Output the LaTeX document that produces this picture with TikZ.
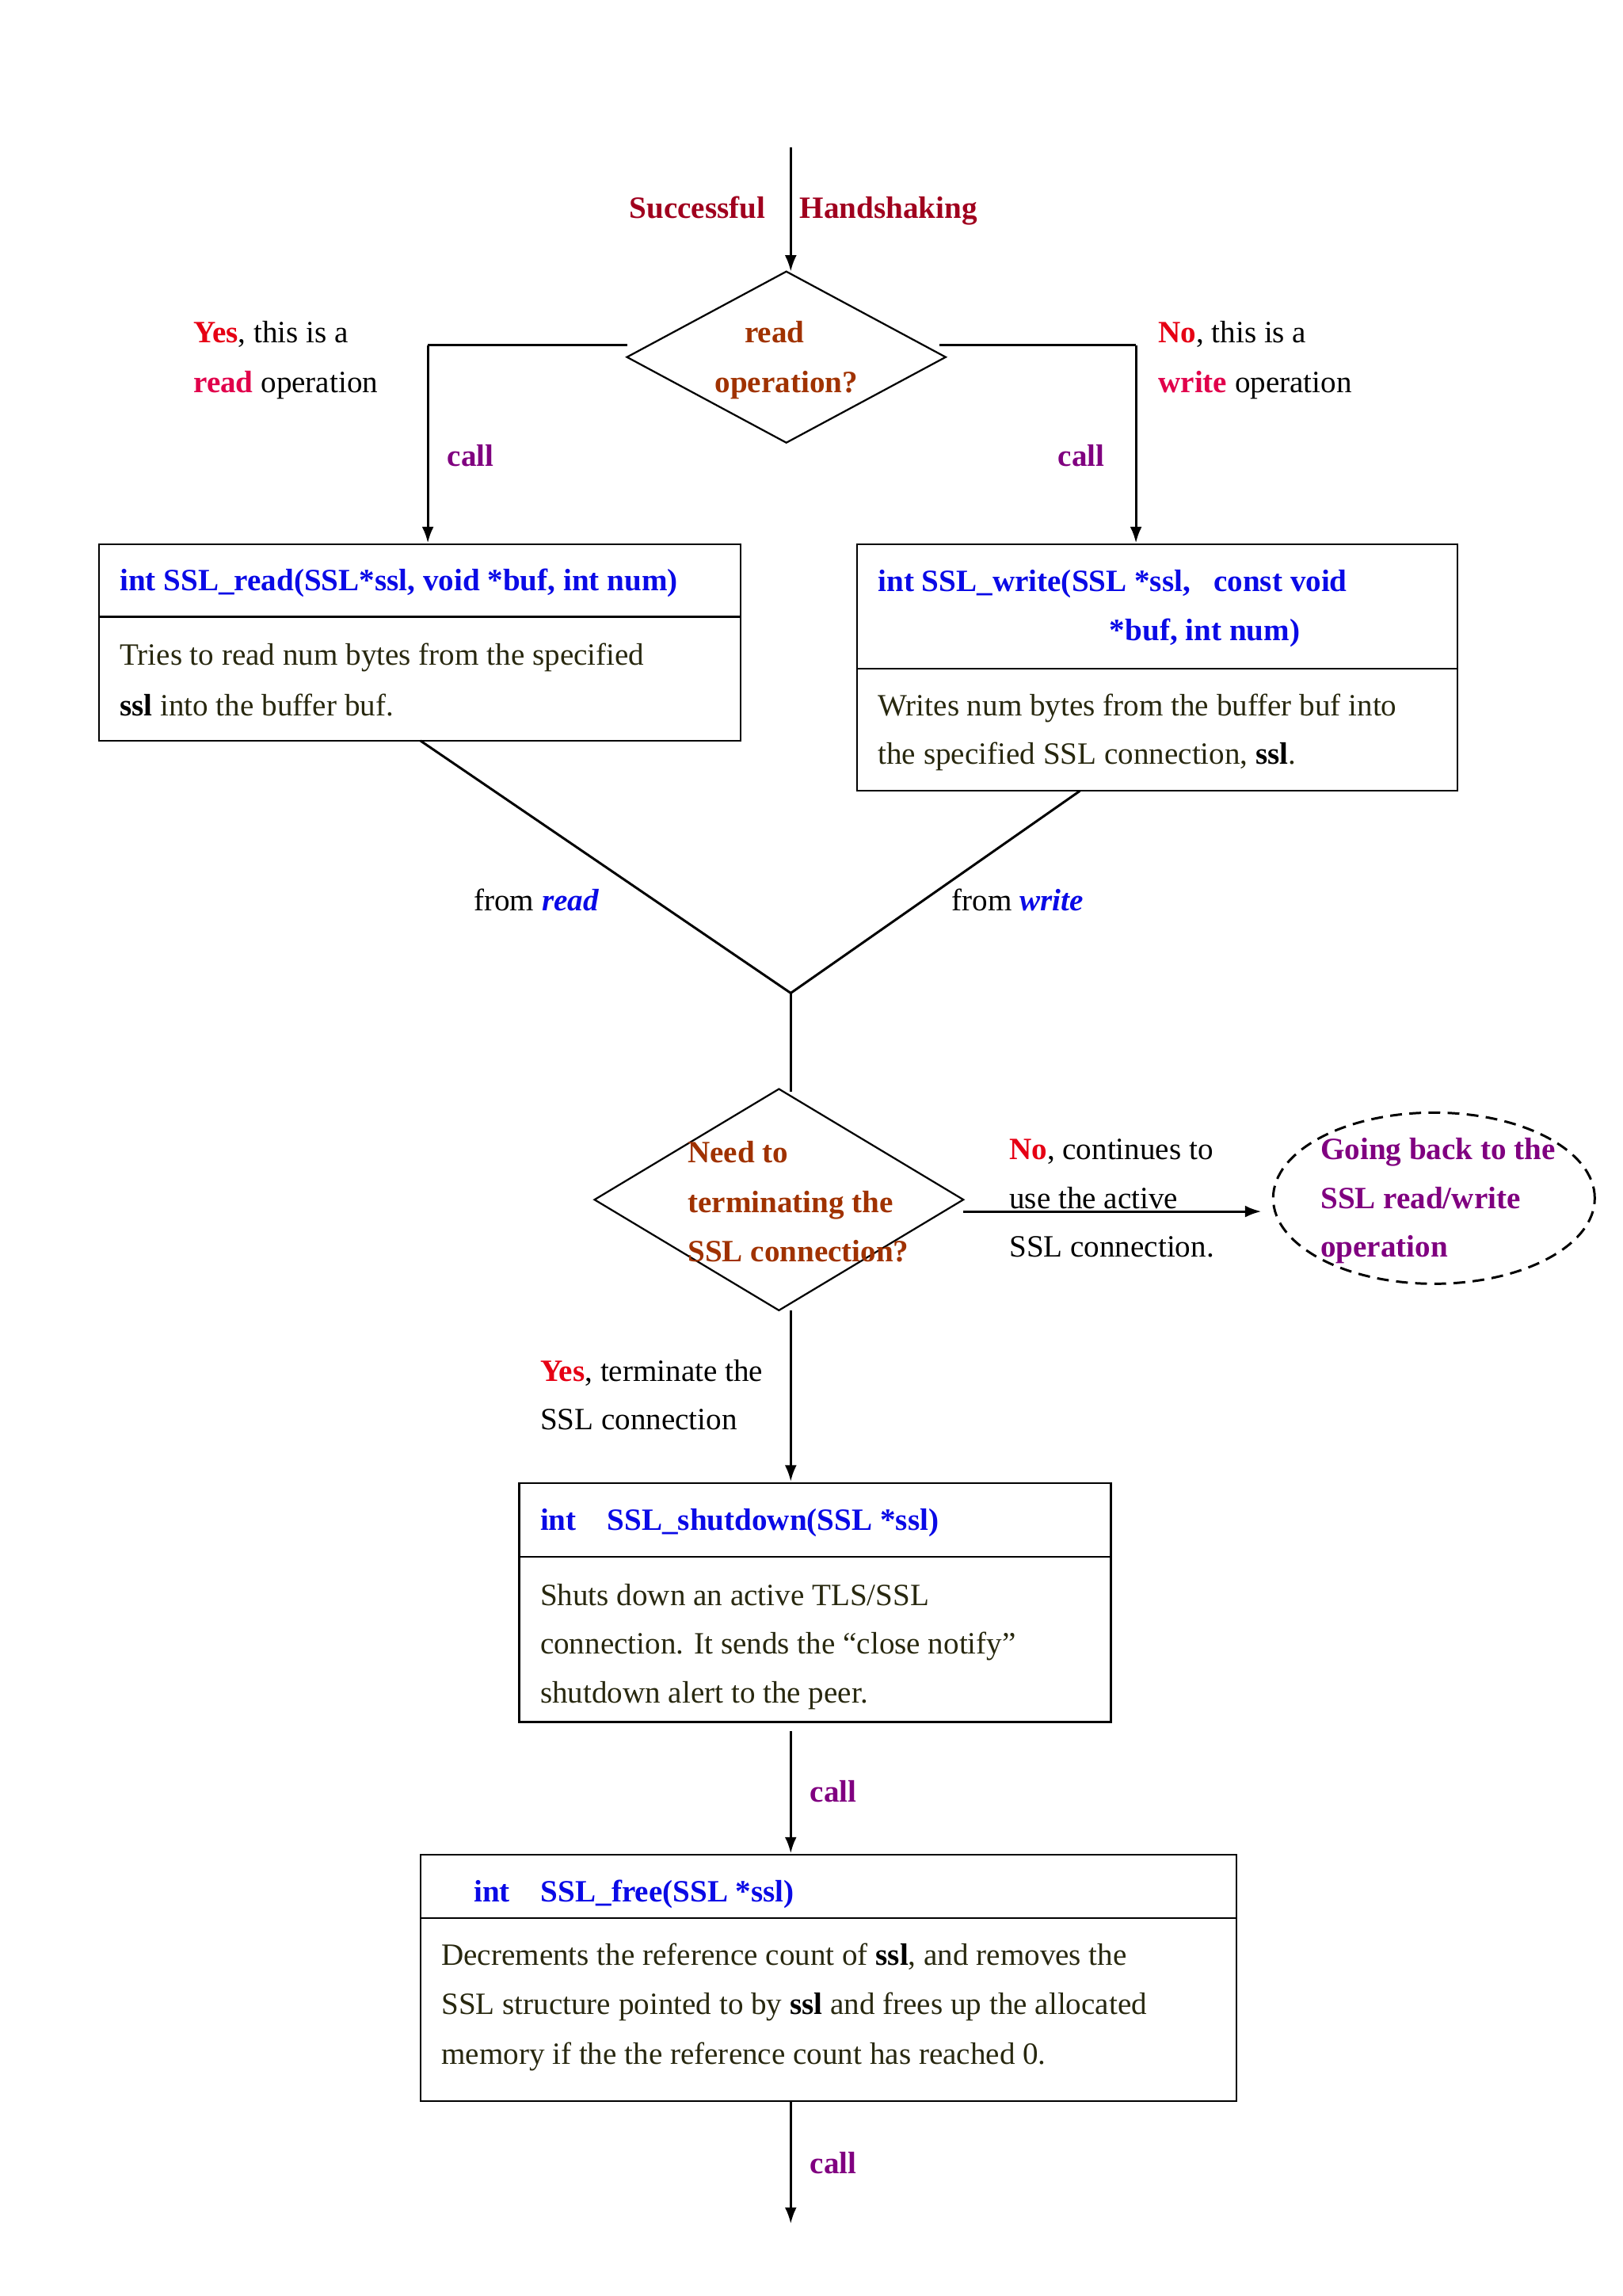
\documentclass[tikz,border=0pt]{standalone}
\usepackage{fontspec}
\setmainfont{Liberation Serif}
\usetikzlibrary{arrows.meta,shapes.geometric}
\definecolor{tblue}{RGB}{10,10,230}
\definecolor{dorange}{RGB}{160,50,0}
\definecolor{dred}{RGB}{160,0,30}
\definecolor{bred}{RGB}{230,0,20}
\definecolor{pink}{RGB}{225,0,75}
\definecolor{purp}{RGB}{128,0,128}
\definecolor{body}{RGB}{40,40,15}
\begin{document}
\begin{tikzpicture}[x=1pt,y=-1pt,
  every node/.style={font=\fontsize{21}{26}\selectfont, inner sep=0pt, anchor=base west},
  ln/.style={line width=1.6pt},
  arr/.style={line width=1.6pt,-{Latex[length=11pt,width=8pt]}},
  box/.style={line width=1.2pt},
  ttl/.style={text=tblue,font=\fontsize{21}{26}\selectfont\bfseries},
  bt/.style={text=body},
  cl/.style={text=purp,font=\fontsize{21}{26}\selectfont\bfseries},
  dt/.style={text=dorange,font=\fontsize{21}{26}\selectfont\bfseries}]
\useasboundingbox (0,0) rectangle (1100,1556);
% top
\coordinate (t0) at (536,100);
\coordinate (d1t) at (536,184);
\draw[arr] (t0) -- (d1t);
\node[text=dred,font=\fontsize{21}{26}\selectfont\bfseries,anchor=base east] (s1) at (519,148) {Successful};
\node[text=dred,font=\fontsize{21}{26}\selectfont\bfseries] (s2) at (542,148) {Handshaking};
% diamond 1
\draw[box] (425,242) -- (533,184) -- (641,242) -- (533,300) -- cycle;
\node[dt,anchor=base] (r1) at (525,232) {read};
\node[dt,anchor=base] (r2) at (533,266) {operation?};
\coordinate (l1) at (425,234); \coordinate (l2) at (290,234); \coordinate (l3) at (290,368);
\coordinate (q1) at (637,234); \coordinate (q2) at (770,234); \coordinate (q3) at (770,368);
\draw[ln] (l1) -- (l2); \draw[arr] (l2) -- (l3);
\draw[ln] (q1) -- (q2); \draw[arr] (q2) -- (q3);
\node (y1) at (131,232) {\textcolor{bred}{\textbf{Yes}}, this is a};
\node (y2) at (131,266) {\textcolor{pink}{\textbf{read}} operation};
\node (n1) at (785,232) {\textcolor{bred}{\textbf{No}}, this is a};
\node (n2) at (785,266) {\textcolor{pink}{\textbf{write}} operation};
\node[cl] (c1) at (303,316) {call};
\node[cl] (c2) at (717,316) {call};
% box1
\draw[box] (67,369) rectangle (502,502); \draw[box] (67,418) -- (502,418);
\node[ttl] (b1t) at (81,400) {int SSL\_read(SSL*ssl, void *buf, int num)};
\node[bt] (b1a) at (81,451) {Tries to read num bytes from the specified};
\node[bt] (b1b) at (81,485) {\textbf{\color{black}ssl} into the buffer buf.};
% box2
\draw[box] (581,369) rectangle (988,536); \draw[box] (581,453) -- (988,453);
\node[ttl] (b2t) at (595,401) {int SSL\_write(SSL *ssl,\ \ \ const void};
\node[ttl] (b2u) at (752,434) {*buf, int num)};
\node[bt] (b2a) at (595,485) {Writes num bytes from the buffer buf into};
\node[bt] (b2b) at (595,518) {the specified SSL connection, \textbf{\color{black}ssl}.};
% merge
\coordinate (m1) at (285,502); \coordinate (m2) at (732,536); \coordinate (m) at (536,673); \coordinate (d2t) at (536,740);
\draw[ln] (m1) -- (m) -- (m2); \draw[ln] (m) -- (d2t);
\node (fr) at (321,617) {from \textcolor{tblue}{\textbf{\textit{read}}}};
\node (fw) at (645,617) {from \textcolor{tblue}{\textbf{\textit{write}}}};
% diamond 2
\draw[box] (403,813) -- (528,738) -- (653,813) -- (528,888) -- cycle;
\node[dt] (e1) at (466,788) {Need to};
\node[dt] (e2) at (466,822) {terminating the};
\node[dt] (e3) at (466,855) {SSL connection?};
\coordinate (a1) at (653,821); \coordinate (a2) at (855,821);
\draw[arr] (a1) -- (a2);
\node (o1) at (684,786) {\textcolor{bred}{\textbf{No}}, continues to};
\node (o2) at (684,819) {use the active};
\node (o3) at (684,852) {SSL connection.};
\node[draw,ellipse,dashed,line width=1.6pt,minimum width=218pt,minimum height=116pt,anchor=center,dash pattern=on 8pt off 5pt] (g) at (972,812) {};
\node[cl] (g1) at (895,786) {Going back to the};
\node[cl] (g2) at (895,819) {SSL read/write};
\node[cl] (g3) at (895,852) {operation};
% to shutdown
\coordinate (d2b) at (536,888); \coordinate (b3t) at (536,1004);
\draw[arr] (d2b) -- (b3t);
\node (ya) at (366,936) {\textcolor{bred}{\textbf{Yes}}, terminate the};
\node (yb) at (366,969) {SSL connection};
% box3
\draw[box] (352,1005) rectangle (753,1167); \draw[box] (352,1055) -- (753,1055);
\node[ttl] (b3x) at (366,1037) {int\ \ \ \ SSL\_shutdown(SSL *ssl)};
\node[bt] (b3a) at (366,1088) {Shuts down an active TLS/SSL};
\node[bt] (b3b) at (366,1121) {connection. It sends the “close notify”};
\node[bt] (b3c) at (366,1154) {shutdown alert to the peer.};
\coordinate (k1) at (536,1173); \coordinate (k2) at (536,1256);
\draw[arr] (k1) -- (k2);
\node[cl] (c3) at (549,1221) {call};
% box4
\draw[box] (285,1257) rectangle (838,1424); \draw[box] (285,1300) -- (838,1300);
\node[ttl] (b4x) at (321,1289) {int\ \ \ \ SSL\_free(SSL *ssl)};
\node[bt] (b4a) at (299,1332) {Decrements the reference count of \textbf{\color{black}ssl}, and removes the};
\node[bt] (b4b) at (299,1365) {SSL structure pointed to by \textbf{\color{black}ssl} and frees up the allocated};
\node[bt] (b4c) at (299,1399) {memory if the the reference count has reached 0.};
\coordinate (z1) at (536,1424); \coordinate (z2) at (536,1507);
\draw[arr] (z1) -- (z2);
\node[cl] (c4) at (549,1473) {call};
\end{tikzpicture}
\end{document}
